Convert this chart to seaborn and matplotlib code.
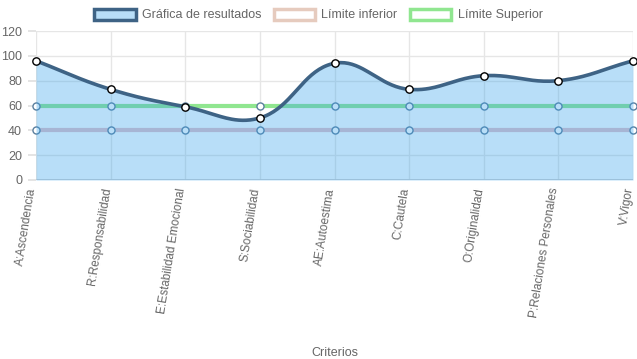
import numpy as np
import pandas as pd
import matplotlib
matplotlib.use("Agg")
import matplotlib.pyplot as plt
import matplotlib.transforms as mtransforms
from matplotlib.patches import Patch
import seaborn as sns

categories = ["A:Ascendencia", "R:Responsabilidad", "E:Estabilidad Emocional",
              "S:Sociabilidad", "AE:Autoestima", "C:Cautela", "O:Originalidad",
              "P:Relaciones Personales", "V:Vigor"]
resultados = [96, 73, 59, 50, 94, 73, 84, 80, 96]
limite_inferior = [40, 40, 40, 40, 40, 40, 40, 40, 40]
limite_superior = [60, 60, 60, 60, 60, 60, 60, 60, 60]
yticks = [0, 20, 40, 60, 80, 100, 120]

sns.set_theme(style="whitegrid")
plt.rcParams['font.family'] = ['Liberation Sans', 'DejaVu Sans']

W, H = 637, 359
fig = plt.figure(figsize=(W / 100, H / 100), dpi=100)
ax = fig.add_axes([36 / W, 1 - 180 / H, (633 - 36) / W, (180 - 31) / H])

x = np.arange(len(categories), dtype=float)
y = np.array(resultados, dtype=float)

# Chart.js-style spline (tension 0.4) computed in pixel space
sx, sy = (633 - 36) / (len(categories) - 1), (180 - 31) / 120.0
P = np.column_stack([x * sx, y * sy])
n = len(P)
cp_prev = np.zeros_like(P)
cp_next = np.zeros_like(P)
t = 0.4
for i in range(n):
    prev = P[i - 1] if i > 0 else P[i]
    cur = P[i]
    nxt = P[i + 1] if i < n - 1 else P[i]
    d01 = np.hypot(*(cur - prev))
    d12 = np.hypot(*(nxt - cur))
    tot = d01 + d12
    s01 = d01 / tot if tot else 0
    s12 = d12 / tot if tot else 0
    cp_prev[i] = cur - t * s01 * (nxt - prev)
    cp_next[i] = cur + t * s12 * (nxt - prev)
seg = []
tt = np.linspace(0, 1, 40)[:, None]
for i in range(n - 1):
    p0, p1, p2, p3 = P[i], cp_next[i], cp_prev[i + 1], P[i + 1]
    b = ((1 - tt) ** 3) * p0 + 3 * ((1 - tt) ** 2) * tt * p1 + 3 * (1 - tt) * tt ** 2 * p2 + tt ** 3 * p3
    seg.append(b if i == 0 else b[1:])
curve = np.vstack(seg)
curve_df = pd.DataFrame({"x": curve[:, 0] / sx, "y": curve[:, 1] / sy})

lim_df = pd.DataFrame({"x": np.concatenate([x, x]),
                       "y": limite_inferior + limite_superior,
                       "serie": ["inf"] * n + ["sup"] * n})

low_c = "#E4C0C8"
low_leg = "#E6CBBE"
up_c = "#90E690"
fill_c = (54 / 255, 162 / 255, 235 / 255, 0.35)
line_c = "#3E6385"

sns.lineplot(data=lim_df, x="x", y="y", hue="serie",
             palette={"inf": low_c, "sup": up_c}, linewidth=3, ax=ax,
             legend=False, zorder=2)
for vals in (limite_inferior, limite_superior):
    ax.scatter(x, vals, s=26, facecolor="white", edgecolor="#5B7F9E",
               linewidth=1, zorder=3, clip_on=False)

ax.fill_between(curve_df["x"], 0, curve_df["y"], color=fill_c, linewidth=0, zorder=4)
sns.lineplot(data=curve_df, x="x", y="y", color=line_c, linewidth=2.6, ax=ax,
             zorder=5, sort=False)
ax.scatter(x, y, s=28, facecolor="white", edgecolor="black", linewidth=1,
           zorder=6, clip_on=False)

ax.set_xlim(0, len(categories) - 1)
ax.set_ylim(0, 120)
ax.set_yticks(yticks)
ax.set_yticklabels([str(v) for v in yticks], fontsize=9, color="#666666")
ax.set_xticks(x)
ax.set_xticklabels([])
ax.tick_params(axis="x", length=0)
lab_tr = ax.get_xaxis_transform() + mtransforms.ScaledTranslation(-3.5 / 100, -8 / 100, fig.dpi_scale_trans)
for xi, lab in zip(x, categories):
    ax.text(xi, 0, lab, transform=lab_tr, rotation=81, ha="right", va="center",
            rotation_mode="anchor", fontsize=8.5, color="#666666")
ax.tick_params(axis="y", pad=4, length=6, color="#E0E0E0", left=True)
ax.grid(True, color="#E6E6E6", linewidth=1)
for s in ax.spines.values():
    s.set_visible(False)
ax.axhline(0, color="#CFCFCF", linewidth=2, zorder=1)
ax.set_xlabel("Criterios", fontsize=9, color="#666666", labelpad=10)
ax.xaxis.set_label_coords(0.5, -(347 - 180) / (180 - 31))
ax.set_ylabel("")

handles = [Patch(facecolor=fill_c, edgecolor=line_c, linewidth=2.5, label="Gráfica de resultados"),
           Patch(facecolor="white", edgecolor=low_leg, linewidth=2.5, label="Límite inferior"),
           Patch(facecolor="white", edgecolor=up_c, linewidth=2.5, label="Límite Superior")]
leg = fig.legend(handles=handles, loc="center", bbox_to_anchor=(0.5, 1 - 15 / H), ncol=3,
                 frameon=False, fontsize=9, handlelength=3.3, handleheight=1.0,
                 handletextpad=0.5, columnspacing=1.0)
for txt in leg.get_texts():
    txt.set_color("#666666")

fig.savefig("out.png", dpi=100)
